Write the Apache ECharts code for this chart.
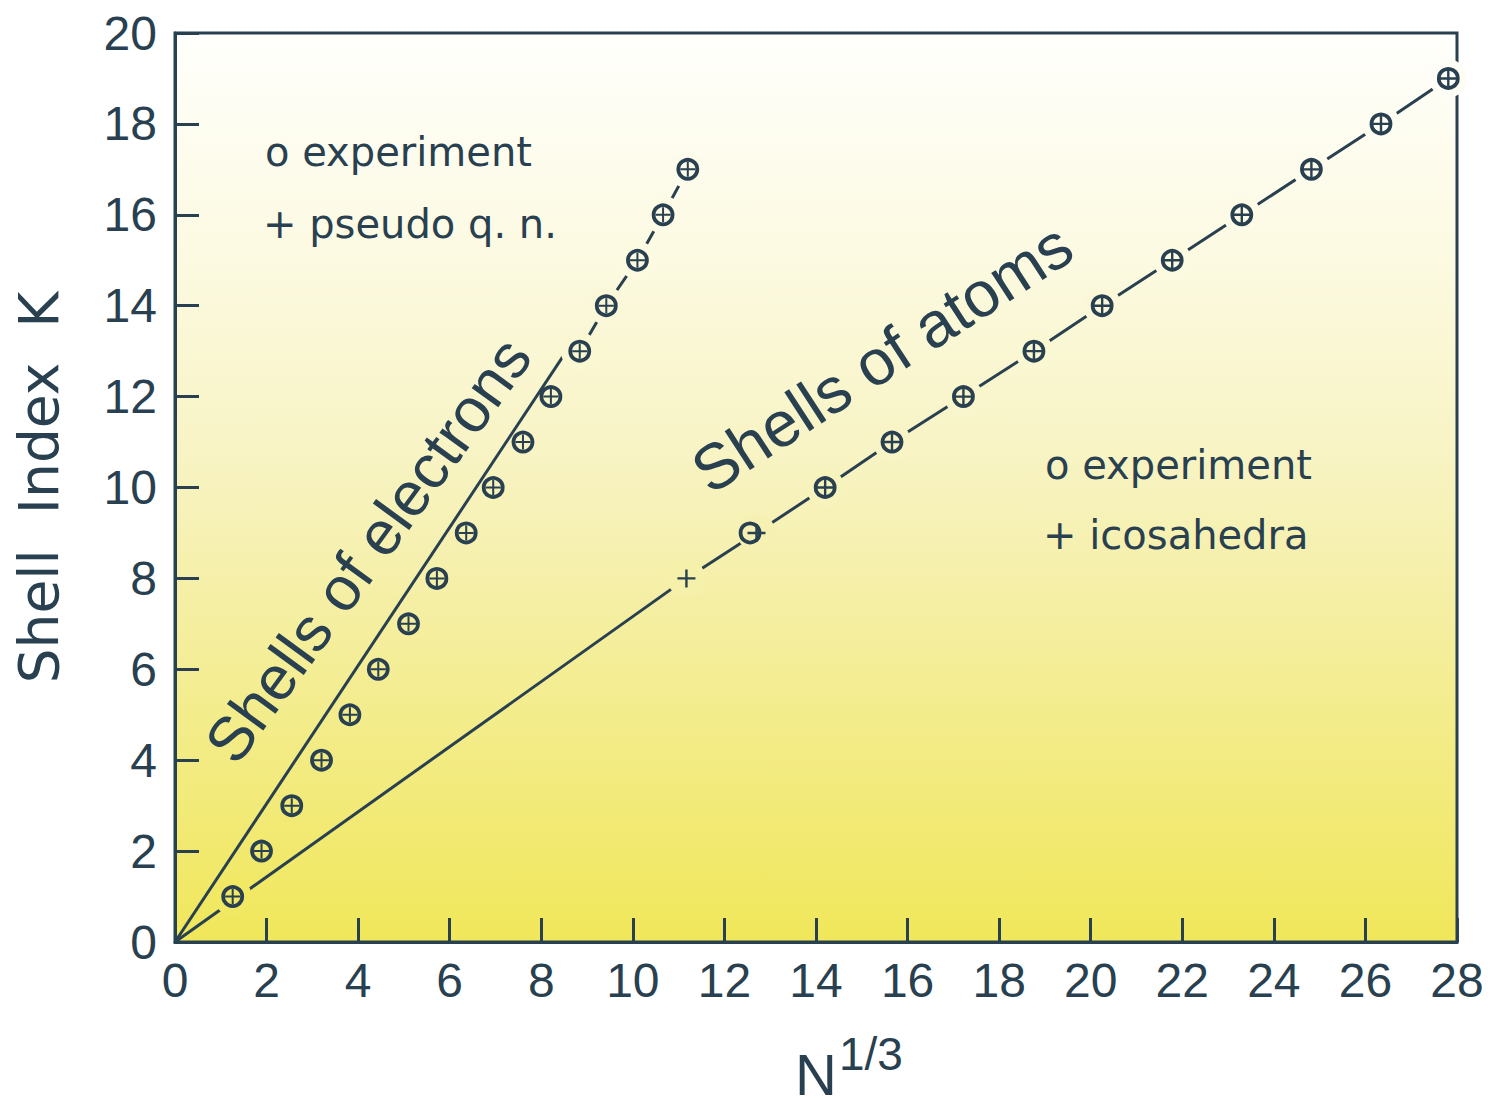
<!DOCTYPE html>
<html>
<head>
<meta charset="utf-8">
<script src="https://cdn.jsdelivr.net/npm/echarts@6/dist/echarts.min.js"></script>
<style>
  html, body { margin: 0; padding: 0; background: #ffffff; }
  #chart { width: 1490px; height: 1110px; }
</style>
</head>
<body>
<div id="chart"></div>
<script>
// ---------------- data ----------------
const xTicks = [0, 2, 4, 6, 8, 10, 12, 14, 16, 18, 20, 22, 24, 26, 28];
const yTicks = [0, 2, 4, 6, 8, 10, 12, 14, 16, 18, 20];

// Shells of electrons: experiment (o) and pseudo quantum numbers (+), same positions
const electronK = [1, 2, 3, 4, 5, 6, 7, 8, 9, 10, 11, 12, 13, 14, 15, 16, 17];
const electronN = [1.26, 1.89, 2.55, 3.20, 3.82, 4.44, 5.10, 5.72, 6.36, 6.95, 7.60, 8.21, 8.84, 9.42, 10.10, 10.66, 11.20];

// Shells of atoms: experiment (o)
const atomExpK = [9, 10, 11, 12, 13, 14, 15, 16, 17, 18, 19];
const atomExpN = [12.56, 14.20, 15.66, 17.22, 18.76, 20.25, 21.78, 23.30, 24.82, 26.34, 27.81];

// Shells of atoms: icosahedra (+)
const icosaK = [8, 9, 10, 11, 12, 13, 14, 15, 16, 17, 18, 19];
const icosaN = [11.17, 12.70, 14.20, 15.66, 17.22, 18.76, 20.25, 21.78, 23.30, 24.82, 26.34, 27.81];

// straight guide lines from the origin
const electronFitN = [0, 8.55];
const electronFitK = [0, 13];
const atomFitN = [0, 11.17];
const atomFitK = [0, 8];

// ---------------- styling helpers ----------------
const C = '#28404f';
const bgStops = [
  [0.00, [255, 255, 252]],
  [0.24, [252, 250, 226]],
  [0.45, [248, 244, 198]],
  [0.62, [245, 239, 166]],
  [1.00, [240, 231, 90]]
];
function bgAt(k) {
  const t = 1 - k / 20;
  for (let i = 1; i < bgStops.length; i++) {
    if (t <= bgStops[i][0]) {
      const a = bgStops[i - 1], b = bgStops[i];
      const f = (t - a[0]) / (b[0] - a[0]);
      const c = a[1].map((v, j) => Math.round(v + (b[1][j] - v) * f));
      return 'rgb(' + c.join(',') + ')';
    }
  }
  const l = bgStops[bgStops.length - 1][1];
  return 'rgb(' + l.join(',') + ')';
}
const zip = (xs, ys) => xs.map((x, i) => [x, ys[i]]);

const electronPts = zip(electronN, electronK);
const atomExpPts = zip(atomExpN, atomExpK);
const icosaPts = zip(icosaN, icosaK);
const electronDashPts = electronPts.filter(p => p[1] >= 13);
// where the drawn lines are broken around markers
const gapPts = electronPts.filter(p => p[1] === 1 || p[1] >= 13).concat(icosaPts);

const plusPath = 'path://M0,-1L0,1M-1,0L1,0';
const tickFont = 'Liberation Sans, Arial, sans-serif';

const chart = echarts.init(document.getElementById('chart'), null, { renderer: 'svg' });
chart.setOption({
  animation: false,
  backgroundColor: '#ffffff',
  grid: {
    left: 175, right: 33, top: 33, bottom: 168,
    outerBoundsMode: 'none',
    containLabel: false,
    show: true,
    borderColor: C,
    borderWidth: 3,
    backgroundColor: {
      type: 'linear', x: 0, y: 0, x2: 0, y2: 1,
      colorStops: bgStops.map(s => ({ offset: s[0], color: 'rgb(' + s[1].join(',') + ')' }))
    }
  },
  xAxis: {
    type: 'value',
    min: xTicks[0], max: xTicks[xTicks.length - 1], interval: 2,
    name: '{n|N}{s|1/3}',
    nameLocation: 'middle',
    nameGap: 96,
    nameTextStyle: {
      padding: [0, 0, 0, 66],
      rich: {
        n: { fontSize: 58, fontFamily: tickFont, color: C, lineHeight: 58, padding: [14, 0, 0, 0] },
        s: { fontSize: 46, fontFamily: tickFont, color: C, lineHeight: 46, padding: [0, 0, 26, 2] }
      }
    },
    axisLine: { show: true, lineStyle: { color: C, width: 3 } },
    axisTick: { show: true, inside: true, length: 24, lineStyle: { color: C, width: 3 } },
    axisLabel: { fontSize: 48, fontFamily: tickFont, color: C, margin: 14 },
    splitLine: { show: false }
  },
  yAxis: {
    type: 'value',
    min: yTicks[0], max: yTicks[yTicks.length - 1], interval: 2,
    name: 'Shell  Index  K',
    nameLocation: 'middle',
    nameRotate: 90,
    nameGap: 109,
    nameTextStyle: { fontSize: 55, fontFamily: 'DejaVu Sans, sans-serif', color: C },
    axisLine: { show: true, lineStyle: { color: C, width: 3 } },
    axisTick: { show: true, inside: true, length: 24, lineStyle: { color: C, width: 3 } },
    axisLabel: { fontSize: 48, fontFamily: tickFont, color: C, margin: 18 },
    splitLine: { show: false }
  },
  series: [
    { name: 'electron guide', type: 'line', z: 2, silent: true, symbol: 'none',
      data: zip(electronFitN, electronFitK), lineStyle: { color: C, width: 3 } },
    { name: 'electron connector', type: 'line', z: 2, silent: true, symbol: 'none',
      data: electronDashPts, lineStyle: { color: C, width: 3 } },
    { name: 'atom guide', type: 'line', z: 2, silent: true, symbol: 'none',
      data: zip(atomFitN, atomFitK), lineStyle: { color: C, width: 3 } },
    { name: 'atom connector', type: 'line', z: 2, silent: true, symbol: 'none',
      data: icosaPts, lineStyle: { color: C, width: 3 } },
    { name: 'gaps', type: 'scatter', z: 3, silent: true, symbol: 'circle', symbolSize: 38,
      data: gapPts, itemStyle: { color: p => bgAt(p.value[1]), borderWidth: 0, opacity: 1 } },
    { name: 'electrons experiment', type: 'scatter', z: 4, silent: true, symbol: 'circle', symbolSize: 19,
      data: electronPts, itemStyle: { color: 'transparent', borderColor: C, borderWidth: 3.8, opacity: 1 } },
    { name: 'pseudo q. n.', type: 'scatter', z: 5, silent: true, symbol: plusPath, symbolSize: 15,
      data: electronPts, itemStyle: { color: 'none', borderColor: C, borderWidth: 2, opacity: 1 } },
    { name: 'atoms experiment', type: 'scatter', z: 4, silent: true, symbol: 'circle', symbolSize: 19,
      data: atomExpPts, itemStyle: { color: 'transparent', borderColor: C, borderWidth: 3.8, opacity: 1 } },
    { name: 'icosahedra', type: 'scatter', z: 5, silent: true, symbol: plusPath, symbolSize: 18,
      data: icosaPts, itemStyle: { color: 'none', borderColor: C, borderWidth: 2.4, opacity: 1 } }
  ],
  graphic: {
    elements: [
      { type: 'text', z: 20, x: 368, y: 550, rotation: 54 * Math.PI / 180,
        style: { text: 'Shells of electrons', fontSize: 62, fontFamily: 'Liberation Sans, Arial, sans-serif',
          fill: C, align: 'center', verticalAlign: 'middle' } },
      { type: 'text', z: 20, x: 882, y: 358, rotation: 33 * Math.PI / 180,
        style: { text: 'Shells of atoms', fontSize: 64, fontFamily: 'Liberation Sans, Arial, sans-serif',
          fill: C, align: 'center', verticalAlign: 'middle' } },
      { type: 'text', z: 20, x: 265, y: 152,
        style: { text: 'o experiment', fontSize: 40, fontFamily: 'DejaVu Sans, sans-serif',
          fill: C, align: 'left', verticalAlign: 'middle' } },
      { type: 'text', z: 20, x: 263, y: 224,
        style: { text: '+ pseudo q. n.', fontSize: 40, fontFamily: 'DejaVu Sans, sans-serif',
          fill: C, align: 'left', verticalAlign: 'middle' } },
      { type: 'text', z: 20, x: 1045, y: 465,
        style: { text: 'o experiment', fontSize: 40, fontFamily: 'DejaVu Sans, sans-serif',
          fill: C, align: 'left', verticalAlign: 'middle' } },
      { type: 'text', z: 20, x: 1043, y: 535,
        style: { text: '+ icosahedra', fontSize: 40, fontFamily: 'DejaVu Sans, sans-serif',
          fill: C, align: 'left', verticalAlign: 'middle' } }
    ]
  }
});
</script>
</body>
</html>
